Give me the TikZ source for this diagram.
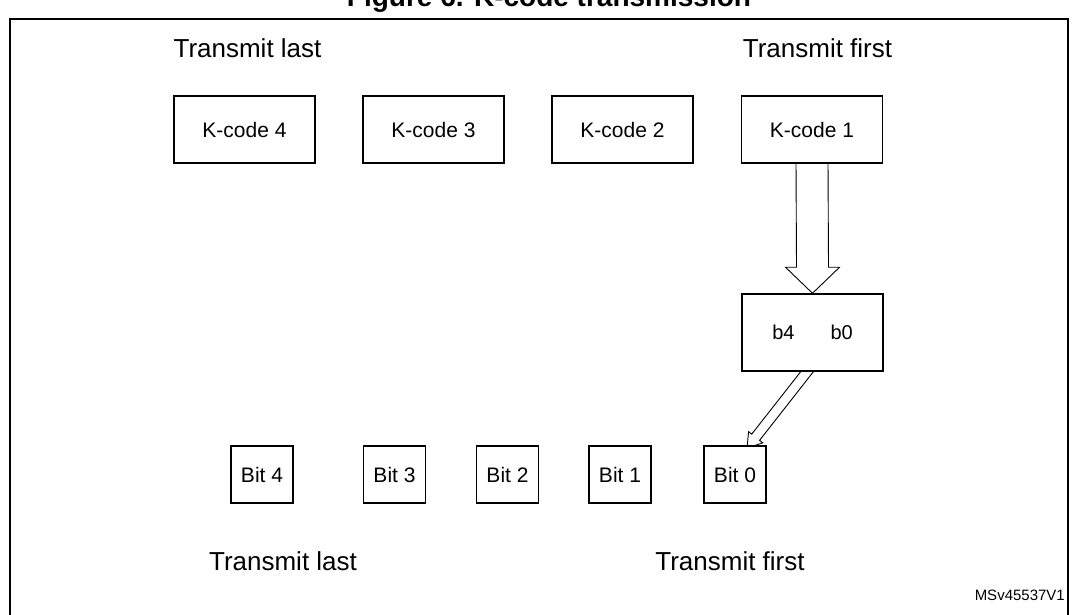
\documentclass[tikz,border=0pt]{standalone}
\usepackage{fontspec}
\setmainfont{Liberation Sans}
\usetikzlibrary{calc,backgrounds}
\tikzset{
  kbox/.style={draw, line width=1.5pt, fill=white, minimum width=141pt, minimum height=67pt, inner sep=0pt, font=\fontsize{21}{24}\selectfont},
  bbox/.style={draw, line width=1.5pt, fill=white, minimum width=141pt, minimum height=77pt, inner sep=0pt, font=\fontsize{20}{24}\selectfont},
  bitbox/.style={draw, line width=1.5pt, fill=white, minimum width=62pt, minimum height=57pt, inner sep=0pt, font=\fontsize{21}{24}\selectfont},
  lbl/.style={inner sep=0pt, anchor=base, font=\fontsize{26}{30}\selectfont},
  fatarrow/.style={draw, line width=0.9pt, fill=white, line join=miter},
  frame/.style={line width=2pt}
}
\begin{document}
\begin{tikzpicture}[x=1pt,y=1pt]
\useasboundingbox (0,0) rectangle (1076,614);
% frame
\draw[frame] (10,-5) -- (10,595) -- (1068,595) -- (1068,-5);
% title (cut by the page top)
\node[inner sep=0pt, anchor=base, font=\bfseries\fontsize{28}{32}\selectfont] (title) at (549,607) {Figure 6. K-code transmission};
% labels
\node[lbl] (tl1) at (247.5,556) {Transmit last};
\node[lbl] (tf1) at (817.5,556) {Transmit first};
\node[lbl] (tl2) at (283,44) {Transmit last};
\node[lbl] (tf2) at (730,44) {Transmit first};
% K-code boxes
\node[kbox] (k4) at (244.5,484.5) {K-code 4};
\node[kbox] (k3) at (433.5,484.5) {K-code 3};
\node[kbox] (k2) at (622.5,484.5) {K-code 2};
\node[kbox] (k1) at (812,484.5) {K-code 1};
% bit field box
\node[bbox] (b) at (812.5,281.5) {b4\hspace{36pt}b0};
% bit boxes
\node[bitbox] (bit4) at (262,139.5) {Bit 4};
\node[bitbox] (bit3) at (394.5,139.5) {Bit 3};
\node[bitbox] (bit2) at (507.5,139.5) {Bit 2};
\node[bitbox] (bit1) at (620,139.5) {Bit 1};
\node[bitbox] (bit0) at (735,139.5) {Bit 0};
% id
\node[inner sep=0pt, anchor=base east, font=\fontsize{15}{18}\selectfont] (id) at (1065,14) {MSv45537V1};
% arrows
\begin{scope}[on background layer]
\draw[fatarrow] ($(k1.south)+(-16,2)$) -- ($(b.north)+(-16,26)$) -- ($(b.north)+(-27,26)$) -- (b.north)
  -- ($(b.north)+(27,26)$) -- ($(b.north)+(16,26)$) -- ($(k1.south)+(16,2)$);
\coordinate (ds) at ($(b.south)+(-5.5,0)$);
\coordinate (de) at ($(bit0.north)+(12,-3)$);
\coordinate (d0) at ($(ds)!-8pt!(de)$);
\coordinate (dh) at ($(de)!14pt!(ds)$);
\draw[fatarrow] ($(d0)!5pt!90:(de)$) -- ($(dh)!5pt!90:(de)$) -- ($(dh)!9pt!90:(de)$) -- (de)
  -- ($(dh)!9pt!-90:(de)$) -- ($(dh)!5pt!-90:(de)$) -- ($(d0)!5pt!-90:(de)$);
\end{scope}
\end{tikzpicture}
\end{document}
